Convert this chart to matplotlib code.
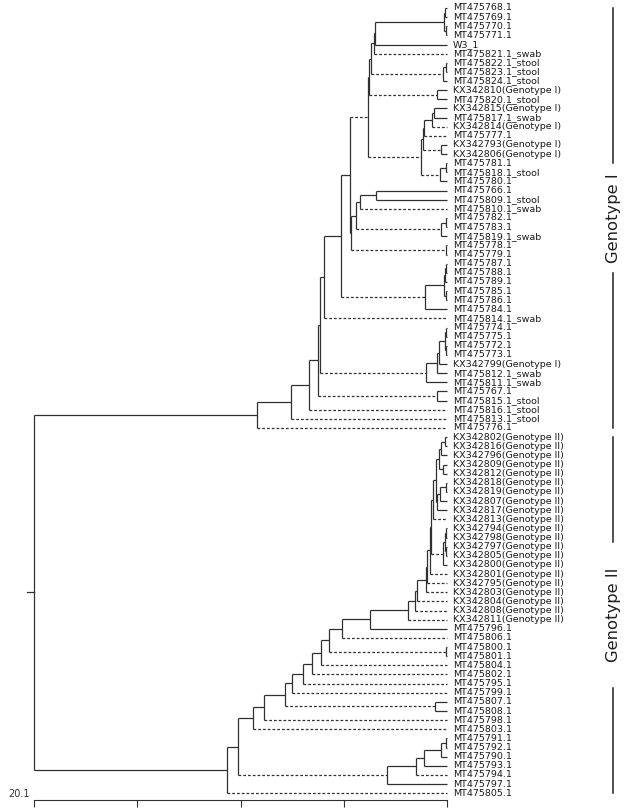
import matplotlib
matplotlib.use("Agg")
import matplotlib.pyplot as plt

# tip labels, top to bottom
leaf_labels = [
    "MT475768.1", "MT475769.1", "MT475770.1", "MT475771.1", "W3_1",
    "MT475821.1_swab", "MT475822.1_stool", "MT475823.1_stool", "MT475824.1_stool",
    "KX342810(Genotype I)", "MT475820.1_stool", "KX342815(Genotype I)",
    "MT475817.1_swab", "KX342814(Genotype I)", "MT475777.1",
    "KX342793(Genotype I)", "KX342806(Genotype I)", "MT475781.1",
    "MT475818.1_stool", "MT475780.1", "MT475766.1", "MT475809.1_stool",
    "MT475810.1_swab", "MT475782.1", "MT475783.1", "MT475819.1_swab",
    "MT475778.1", "MT475779.1", "MT475787.1", "MT475788.1", "MT475789.1",
    "MT475785.1", "MT475786.1", "MT475784.1", "MT475814.1_swab",
    "MT475774.1", "MT475775.1", "MT475772.1", "MT475773.1",
    "KX342799(Genotype I)", "MT475812.1_swab", "MT475811.1_swab",
    "MT475767.1", "MT475815.1_stool", "MT475816.1_stool", "MT475813.1_stool",
    "MT475776.1",
    "KX342802(Genotype II)", "KX342816(Genotype II)", "KX342796(Genotype II)",
    "KX342809(Genotype II)", "KX342812(Genotype II)", "KX342818(Genotype II)",
    "KX342819(Genotype II)", "KX342807(Genotype II)", "KX342817(Genotype II)",
    "KX342813(Genotype II)", "KX342794(Genotype II)", "KX342798(Genotype II)",
    "KX342797(Genotype II)", "KX342805(Genotype II)", "KX342800(Genotype II)",
    "KX342801(Genotype II)", "KX342795(Genotype II)", "KX342803(Genotype II)",
    "KX342804(Genotype II)", "KX342808(Genotype II)", "KX342811(Genotype II)",
    "MT475796.1", "MT475806.1", "MT475800.1", "MT475801.1", "MT475804.1",
    "MT475802.1", "MT475795.1", "MT475799.1", "MT475807.1", "MT475808.1",
    "MT475798.1", "MT475803.1", "MT475791.1", "MT475792.1", "MT475790.1",
    "MT475793.1", "MT475794.1", "MT475797.1", "MT475805.1",
]
tip_depth = 4.0

# internal nodes: (id, depth on the scale, children)
internal_nodes = [
    ("c768a", 3.98, ["MT475768.1", "MT475769.1"]),
    ("c770a", 3.99, ["MT475770.1", "MT475771.1"]),
    ("c768", 3.97, ["c768a", "c770a"]),
    ("n375", 3.30, ["c768", "W3_1"]),
    ("G3", 3.29, ["n375", "MT475821.1_swab"]),
    ("c822a", 3.99, ["MT475822.1_stool", "MT475823.1_stool"]),
    ("c822", 3.96, ["c822a", "MT475824.1_stool"]),
    ("G2", 3.26, ["G3", "c822"]),
    ("c810", 3.90, ["KX342810(Genotype I)", "MT475820.1_stool"]),
    ("G1", 3.24, ["G2", "c810"]),
    ("H3", 3.87, ["KX342815(Genotype I)", "MT475817.1_swab"]),
    ("H2", 3.85, ["H3", "KX342814(Genotype I)"]),
    ("H1a", 3.78, ["H2", "MT475777.1"]),
    ("c793", 3.94, ["KX342793(Genotype I)", "KX342806(Genotype I)"]),
    ("H1", 3.77, ["H1a", "c793"]),
    ("c781a", 3.99, ["MT475781.1", "MT475818.1_stool"]),
    ("c781", 3.93, ["c781a", "MT475780.1"]),
    ("H", 3.75, ["H1", "c781"]),
    ("G", 3.23, ["G1", "H"]),
    ("c766", 3.31, ["MT475766.1", "MT475809.1_stool"]),
    ("A11", 3.16, ["c766", "MT475810.1_swab"]),
    ("c782a", 3.99, ["MT475782.1", "MT475783.1"]),
    ("c782", 3.94, ["c782a", "MT475819.1_swab"]),
    ("A10", 3.12, ["A11", "c782"]),
    ("c778", 3.99, ["MT475778.1", "MT475779.1"]),
    ("A9", 3.07, ["A10", "c778"]),
    ("A7", 3.06, ["G", "A9"]),
    ("c787a", 3.99, ["MT475787.1", "MT475788.1"]),
    ("c787b", 3.98, ["c787a", "MT475789.1"]),
    ("c785", 3.99, ["MT475785.1", "MT475786.1"]),
    ("c787c", 3.97, ["c787b", "c785"]),
    ("c787", 3.79, ["c787c", "MT475784.1"]),
    ("A6", 2.97, ["A7", "c787"]),
    ("A5", 2.81, ["A6", "MT475814.1_swab"]),
    ("c774a", 3.99, ["MT475774.1", "MT475775.1"]),
    ("c772a", 3.99, ["MT475772.1", "MT475773.1"]),
    ("c774", 3.98, ["c774a", "c772a"]),
    ("c799a", 3.92, ["c774", "KX342799(Genotype I)"]),
    ("c799b", 3.90, ["c799a", "MT475812.1_swab"]),
    ("c799", 3.80, ["c799b", "MT475811.1_swab"]),
    ("A4", 2.77, ["A5", "c799"]),
    ("c767", 3.90, ["MT475767.1", "MT475815.1_stool"]),
    ("A3", 2.75, ["A4", "c767"]),
    ("A2", 2.66, ["A3", "MT475816.1_stool"]),
    ("A1", 2.49, ["A2", "MT475813.1_stool"]),
    ("A", 2.16, ["A1", "MT475776.1"]),
    ("P1", 3.98, ["KX342802(Genotype II)", "KX342816(Genotype II)"]),
    ("P2", 3.94, ["P1", "KX342796(Genotype II)"]),
    ("P3", 3.96, ["KX342809(Genotype II)", "KX342812(Genotype II)"]),
    ("P4", 3.92, ["P2", "P3"]),
    ("P5", 3.99, ["KX342818(Genotype II)", "KX342819(Genotype II)"]),
    ("P6", 3.93, ["P5", "KX342807(Genotype II)"]),
    ("P7", 3.90, ["P6", "KX342817(Genotype II)"]),
    ("P8", 3.89, ["P4", "P7"]),
    ("P9", 3.86, ["P8", "KX342813(Genotype II)"]),
    ("Q1", 3.99, ["KX342794(Genotype II)", "KX342798(Genotype II)"]),
    ("Q2", 3.99, ["KX342797(Genotype II)", "KX342805(Genotype II)"]),
    ("Q3", 3.98, ["Q1", "Q2"]),
    ("Q4", 3.96, ["Q3", "KX342800(Genotype II)"]),
    ("L1", 3.84, ["P9", "Q4"]),
    ("L2", 3.83, ["L1", "KX342801(Genotype II)"]),
    ("L3", 3.81, ["L2", "KX342795(Genotype II)"]),
    ("L4", 3.80, ["L3", "KX342803(Genotype II)"]),
    ("L5", 3.71, ["L4", "KX342804(Genotype II)"]),
    ("L6", 3.69, ["L5", "KX342808(Genotype II)"]),
    ("L7", 3.62, ["L6", "KX342811(Genotype II)"]),
    ("N370", 3.25, ["L7", "MT475796.1"]),
    ("N342", 2.98, ["N370", "MT475806.1"]),
    ("c800", 3.99, ["MT475800.1", "MT475801.1"]),
    ("N329", 2.86, ["N342", "c800"]),
    ("N320", 2.78, ["N329", "MT475804.1"]),
    ("N312", 2.69, ["N320", "MT475802.1"]),
    ("N302", 2.60, ["N312", "MT475795.1"]),
    ("N292", 2.50, ["N302", "MT475799.1"]),
    ("c807", 3.88, ["MT475807.1", "MT475808.1"]),
    ("N285", 2.43, ["N292", "c807"]),
    ("N264", 2.23, ["N285", "MT475798.1"]),
    ("N253", 2.12, ["N264", "MT475803.1"]),
    ("R1", 3.99, ["MT475791.1", "MT475792.1"]),
    ("R2", 3.94, ["R1", "MT475790.1"]),
    ("R3", 3.78, ["R2", "MT475793.1"]),
    ("R4", 3.70, ["R3", "MT475794.1"]),
    ("R5", 3.42, ["R4", "MT475797.1"]),
    ("N238", 1.98, ["N253", "R5"]),
    ("B", 1.87, ["N238", "MT475805.1"]),
    ("root", 0.0, ["A", "B"]),
]

# branches (named by the child they lead to) drawn dashed
dashed_branches = [
    "MT475821.1_swab", "c822", "c810", "H", "MT475777.1", "c793",
    "KX342814(Genotype I)", "c781", "G", "MT475810.1_swab", "c782", "c778",
    "c787", "MT475814.1_swab", "c799", "c767", "MT475816.1_stool",
    "MT475813.1_stool", "MT475776.1",
    "KX342813(Genotype II)", "Q4", "KX342801(Genotype II)",
    "KX342795(Genotype II)", "KX342803(Genotype II)", "KX342804(Genotype II)",
    "KX342808(Genotype II)", "KX342811(Genotype II)", "MT475806.1", "c800",
    "MT475804.1", "MT475802.1", "MT475795.1", "MT475799.1", "c807",
    "MT475798.1", "MT475803.1", "MT475794.1", "R5", "MT475805.1",
]

scale_ticks = [0, 1, 2, 3, 4]
scale_label = "20.1"

genotype_groups = ["Genotype I", "Genotype II"]
group_first = ["MT475768.1", "KX342802(Genotype II)"]
group_last = ["MT475776.1", "MT475805.1"]
group_gap = [6.0, 8.0]

LINE = "#303030"
LW = 0.9
DASH = (0, (2.2, 1.6))

depth = {name: tip_depth for name in leaf_labels}
children = {}
for nid, d, ch in internal_nodes:
    depth[nid] = d
    children[nid] = ch
ypos = {name: i for i, name in enumerate(leaf_labels)}


def place(n):
    if n in ypos:
        return ypos[n]
    ys = [place(c) for c in children[n]]
    ypos[n] = (ys[0] + ys[-1]) / 2.0
    return ypos[n]


place("root")

fig = plt.figure(figsize=(6.36, 8.11), dpi=100)
ax = fig.add_axes([0, 11 / 811, 1, 800 / 811])
ax.set_xlim(-0.329, 5.829)
ax.set_ylim(86.746, -0.876)

for nid, d, ch in internal_nodes:
    ys = [ypos[c] for c in ch]
    ax.plot([d, d], [min(ys), max(ys)], color=LINE, lw=LW, solid_capstyle="butt")
    for c in ch:
        ls = DASH if c in dashed_branches else "-"
        ax.plot([d, depth[c]], [ypos[c], ypos[c]], color=LINE, lw=LW,
                linestyle=ls, solid_capstyle="butt")

# short stub at the root
ax.plot([depth["root"] - 0.07, depth["root"]], [ypos["root"]] * 2, color=LINE, lw=LW)

for name in leaf_labels:
    ax.annotate(name, (tip_depth, ypos[name]), xytext=(4.3, 0),
                textcoords="offset points", va="center", ha="left",
                fontsize=6.8, family="DejaVu Sans", color="#1a1a1a")

for g, a, b, gap in zip(genotype_groups, group_first, group_last, group_gap):
    y0, y1 = ypos[a], ypos[b]
    mid = (y0 + y1) / 2.0
    ax.plot([5.61, 5.61], [y0, mid - gap], color="#202020", lw=1.1)
    ax.plot([5.61, 5.61], [mid + gap, y1], color="#202020", lw=1.1)
    ax.text(5.61, mid, g, rotation=90, ha="center", va="center",
            fontsize=11.8, family="DejaVu Sans", color="#202020")

# scale axis
for s in ["top", "right", "left"]:
    ax.spines[s].set_visible(False)
ax.spines["bottom"].set_bounds(scale_ticks[0], scale_ticks[-1])
ax.spines["bottom"].set_color(LINE)
ax.spines["bottom"].set_linewidth(0.8)
ax.set_xticks(scale_ticks)
ax.set_xticklabels([])
ax.tick_params(axis="x", direction="out", length=5, width=0.8, color=LINE)
ax.set_yticks([])
ax.annotate(scale_label, (scale_ticks[0], 0), xycoords=("data", "axes fraction"),
            xytext=(-3, 1), textcoords="offset points", ha="right", va="bottom",
            fontsize=7, family="DejaVu Sans", color="#333333")

fig.savefig("out.png", dpi=100)
